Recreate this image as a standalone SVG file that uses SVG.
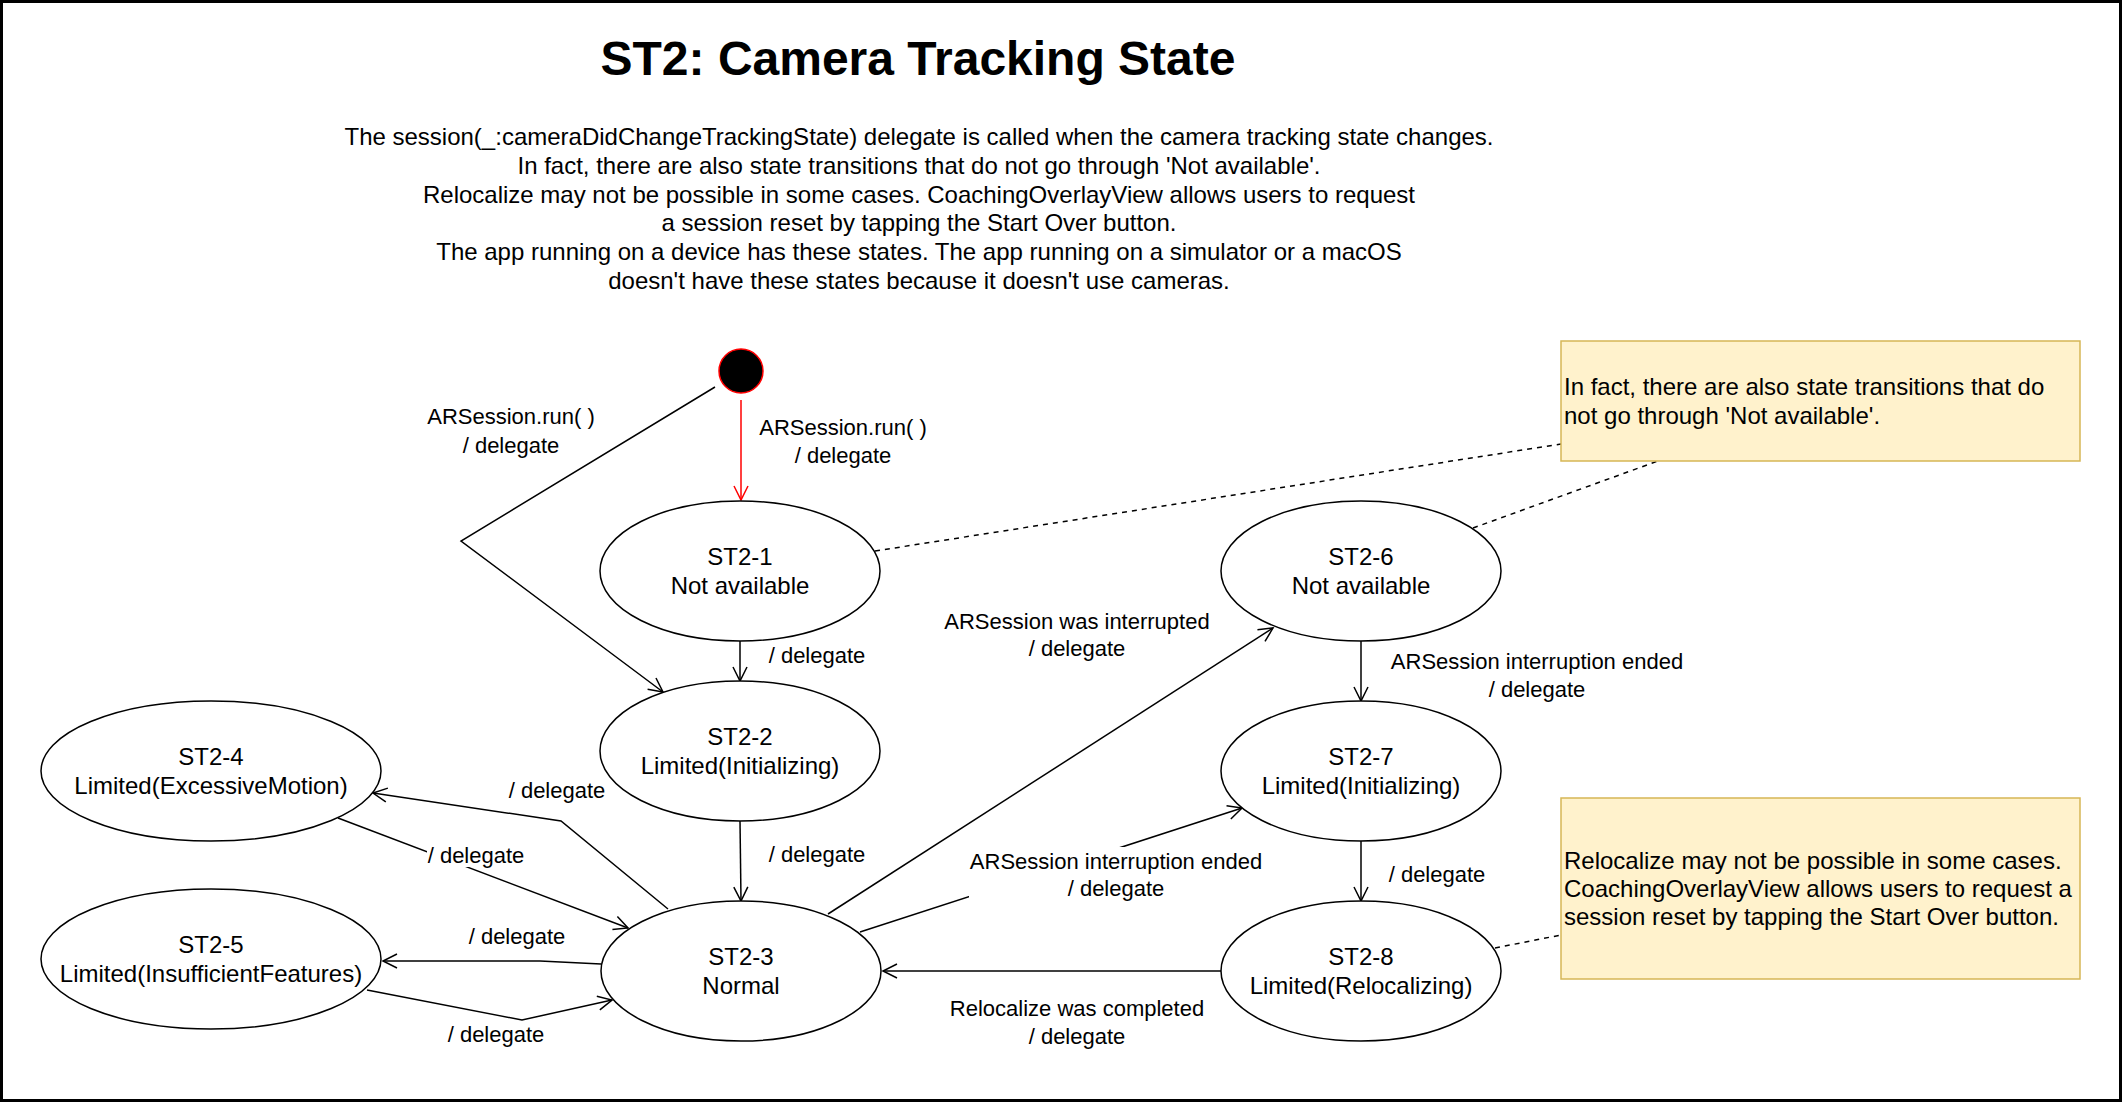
<svg xmlns="http://www.w3.org/2000/svg" width="2122" height="1102" viewBox="0 0 2122 1102">
<style>
text{font-family:"Liberation Sans",Arial,Helvetica,sans-serif;fill:#000}
.title{font-size:48px;font-weight:bold;text-anchor:middle}
.desc{font-size:24px;text-anchor:middle}
.node{font-size:24px;text-anchor:middle}
.lbl{font-size:22px;text-anchor:middle}
.note{font-size:24px}
.st{fill:#fff;stroke:#000;stroke-width:1.5}
.e{fill:none;stroke:#000;stroke-width:1.5;marker-end:url(#arr)}
.red{fill:none;stroke:#ff0000;stroke-width:1.5;marker-end:url(#arrRed)}
.dash{fill:none;stroke:#000;stroke-width:1.5;stroke-dasharray:5 5}
.nb{fill:#fff2cc;stroke:#d6b656;stroke-width:1.5}
.bg{fill:#fff}
</style>
<defs>
<marker id="arr" markerUnits="userSpaceOnUse" markerWidth="18" markerHeight="18" viewBox="0 0 18 18" refX="16" refY="9" orient="auto">
<path d="M2,2 L16,9 L2,16" fill="none" stroke="#000" stroke-width="1.5"/>
</marker>
<marker id="arrRed" markerUnits="userSpaceOnUse" markerWidth="18" markerHeight="18" viewBox="0 0 18 18" refX="16" refY="9" orient="auto">
<path d="M2,2 L16,9 L2,16" fill="none" stroke="#ff0000" stroke-width="1.5"/>
</marker>
</defs>
<rect x="0" y="0" width="2122" height="1102" fill="#fff"/>
<rect x="1.5" y="1.5" width="2119" height="1099" fill="none" stroke="#000" stroke-width="3"/>

<g id="title">
<text class="title" x="918" y="75">ST2: Camera Tracking State</text>
</g>
<g id="description">
<text class="desc" x="919" y="145">The session(_:cameraDidChangeTrackingState) delegate is called when the camera tracking state changes.</text>
<text class="desc" x="919" y="174">In fact, there are also state transitions that do not go through 'Not available'.</text>
<text class="desc" x="919" y="203">Relocalize may not be possible in some cases. CoachingOverlayView allows users to request</text>
<text class="desc" x="919" y="231">a session reset by tapping the Start Over button.</text>
<text class="desc" x="919" y="260">The app running on a device has these states. The app running on a simulator or a macOS</text>
<text class="desc" x="919" y="289">doesn't have these states because it doesn't use cameras.</text>
</g>

<g id="connectors">
<path class="red" d="M741,400 L741,500"/>
<path class="e" d="M715,387 L461,541 L663,692"/>
<path class="e" d="M740,641 L740,681"/>
<path class="e" d="M740,821 L741,901"/>
<path class="e" d="M668,909 L561,821 L373,793"/>
<path class="e" d="M338,818 L628,928"/>
<path class="e" d="M601,964 L540,961 L383,961"/>
<path class="e" d="M367,990 L522,1020 L612,1000"/>
<path class="e" d="M828,914 L1273,628"/>
<path class="e" d="M860,932 L1242,808"/>
<path class="e" d="M1361,641 L1361,701"/>
<path class="e" d="M1361,841 L1361,901"/>
<path class="e" d="M1221,971 L883,971"/>
<path class="dash" d="M875,551 L1561,444"/>
<path class="dash" d="M1473,528 L1658,461"/>
<path class="dash" d="M1495,948 L1561,935"/>

<text class="lbl" x="843" y="435">ARSession.run( )</text>
<text class="lbl" x="843" y="463">/ delegate</text>
<text class="lbl" x="511" y="424">ARSession.run( )</text>
<text class="lbl" x="511" y="453">/ delegate</text>
<text class="lbl" x="817" y="663">/ delegate</text>
<text class="lbl" x="817" y="862">/ delegate</text>
<text class="lbl" x="557" y="798">/ delegate</text>
<rect class="bg" x="427" y="845" width="97" height="22"/>
<text class="lbl" x="476" y="863">/ delegate</text>
<text class="lbl" x="517" y="944">/ delegate</text>
<text class="lbl" x="496" y="1042">/ delegate</text>
<text class="lbl" x="1077" y="629">ARSession was interrupted</text>
<text class="lbl" x="1077" y="656">/ delegate</text>
<rect class="bg" x="969" y="847" width="294" height="54"/>
<text class="lbl" x="1116" y="869">ARSession interruption ended</text>
<text class="lbl" x="1116" y="896">/ delegate</text>
<text class="lbl" x="1537" y="669">ARSession interruption ended</text>
<text class="lbl" x="1537" y="697">/ delegate</text>
<text class="lbl" x="1437" y="882">/ delegate</text>
<text class="lbl" x="1077" y="1016">Relocalize was completed</text>
<text class="lbl" x="1077" y="1044">/ delegate</text>
</g>

<g id="initial">
<circle cx="741" cy="371" r="22" fill="#000" stroke="#ff0000" stroke-width="1.5"/>
</g>
<g id="st2-1">
<ellipse class="st" cx="740" cy="571" rx="140" ry="70"/>
<text class="node" x="740" y="565">ST2-1</text>
<text class="node" x="740" y="594">Not available</text>
</g>
<g id="st2-2">
<ellipse class="st" cx="740" cy="751" rx="140" ry="70"/>
<text class="node" x="740" y="745">ST2-2</text>
<text class="node" x="740" y="774">Limited(Initializing)</text>
</g>
<g id="st2-3">
<ellipse class="st" cx="741" cy="971" rx="140" ry="70"/>
<text class="node" x="741" y="965">ST2-3</text>
<text class="node" x="741" y="994">Normal</text>
</g>
<g id="st2-4">
<ellipse class="st" cx="211" cy="771" rx="170" ry="70"/>
<text class="node" x="211" y="765">ST2-4</text>
<text class="node" x="211" y="794">Limited(ExcessiveMotion)</text>
</g>
<g id="st2-5">
<ellipse class="st" cx="211" cy="959" rx="170" ry="70"/>
<text class="node" x="211" y="953">ST2-5</text>
<text class="node" x="211" y="982">Limited(InsufficientFeatures)</text>
</g>
<g id="st2-6">
<ellipse class="st" cx="1361" cy="571" rx="140" ry="70"/>
<text class="node" x="1361" y="565">ST2-6</text>
<text class="node" x="1361" y="594">Not available</text>
</g>
<g id="st2-7">
<ellipse class="st" cx="1361" cy="771" rx="140" ry="70"/>
<text class="node" x="1361" y="765">ST2-7</text>
<text class="node" x="1361" y="794">Limited(Initializing)</text>
</g>
<g id="st2-8">
<ellipse class="st" cx="1361" cy="971" rx="140" ry="70"/>
<text class="node" x="1361" y="965">ST2-8</text>
<text class="node" x="1361" y="994">Limited(Relocalizing)</text>
</g>
<g id="note-1">
<rect class="nb" x="1561" y="341" width="519" height="120"/>
<text class="note" x="1564" y="395">In fact, there are also state transitions that do</text>
<text class="note" x="1564" y="424">not go through 'Not available'.</text>
</g>
<g id="note-2">
<rect class="nb" x="1561" y="798" width="519" height="181"/>
<text class="note" x="1564" y="869">Relocalize may not be possible in some cases.</text>
<text class="note" x="1564" y="897">CoachingOverlayView allows users to request a</text>
<text class="note" x="1564" y="925">session reset by tapping the Start Over button.</text>
</g>
</svg>
